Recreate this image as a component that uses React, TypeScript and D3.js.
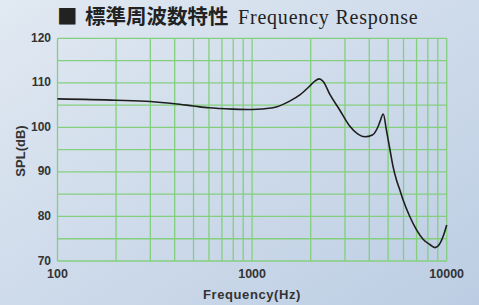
import React from "react";
import * as d3 from "d3";

const freqs = [100, 200, 300, 400, 500, 600, 800, 1000, 1280, 1560, 1760, 1980, 2100, 2210, 2320, 2510, 2830, 3150, 3500, 3800, 4150, 4440, 4540, 4720, 4900, 5100, 5300, 5520, 5740, 5970, 6460, 7000, 7560, 8190, 8690, 9220, 9580, 10000];
const spl = [106.4, 106.1, 105.8, 105.3, 104.8, 104.4, 104.1, 104.0, 104.4, 105.9, 107.3, 109.3, 110.4, 110.9, 110.3, 107.4, 103.8, 100.5, 98.5, 97.9, 98.3, 100.2, 101.3, 103.0, 99.4, 95.2, 91.2, 88.2, 86.0, 83.7, 80.0, 77.0, 74.9, 73.7, 73.0, 73.9, 75.5, 78.1];
const xTickLabels = [100, 1000, 10000];
const xGrid = [100, 200, 300, 400, 500, 600, 700, 800, 900, 1000, 2000, 3000, 4000, 5000, 6000, 7000, 8000, 9000, 10000];
const yTickLabels = [70, 80, 90, 100, 110, 120];
const yGrid = [70, 75, 80, 85, 90, 95, 100, 105, 110, 115, 120];

const W = 479, H = 305;
const L = 57.5, R = 446.7, T = 38.3, B = 261;

export default function App() {
  const x = d3.scaleLog().domain([100, 10000]).range([L, R]);
  const y = d3.scaleLinear().domain([70, 120]).range([B, T]);
  const data = freqs.map((f, i) => [f, spl[i]] as [number, number]);
  const line = d3.line<[number, number]>().x(d => x(d[0])).y(d => y(d[1])).curve(d3.curveMonotoneX);
  const grid = "#84cf7e";
  const tickFont = "'Liberation Sans', Arial, sans-serif";
  return (
    <svg width={W} height={H} style={{ position: "fixed", left: 0, top: 0 }}>
      <defs>
        <linearGradient id="bg" x1="0" y1="0" x2="1" y2="1">
          <stop offset="0" stopColor="#e1e9f2" />
          <stop offset="1" stopColor="#bccde3" />
        </linearGradient>
      </defs>
      <rect x={0} y={0} width={W} height={H} fill="url(#bg)" />
      {yGrid.map(v => (
        <line key={"h" + v} x1={L} x2={R} y1={y(v)} y2={y(v)} stroke={grid} strokeWidth={1.3} />
      ))}
      {xGrid.map(v => (
        <line key={"v" + v} x1={x(v)} x2={x(v)} y1={T} y2={B} stroke={grid} strokeWidth={1.3} />
      ))}
      <path d={line(data) || ""} fill="none" stroke="#1e1e1e" strokeWidth={1.6} />
      {yTickLabels.map(v => (
        <text key={"yl" + v} x={51} y={y(v) + 3.5} textAnchor="end" fontFamily={tickFont} fontWeight="bold" fontSize={12} fill="#333">{v}</text>
      ))}
      {xTickLabels.map(v => (
        <text key={"xl" + v} x={x(v)} y={277.5} textAnchor="middle" fontFamily={tickFont} fontWeight="bold" fontSize={12.5} fill="#333">{v}</text>
      ))}
      <text x={252} y={299} textAnchor="middle" fontFamily={tickFont} fontWeight="bold" fontSize={13} letterSpacing={0.6} fill="#333">Frequency(Hz)</text>
      <text transform="translate(25,151) rotate(-90)" textAnchor="middle" fontFamily={tickFont} fontWeight="bold" fontSize={13} fill="#333">SPL(dB)</text>
      <text x={57} y={24} fontFamily="'Noto Sans CJK JP', sans-serif" fontWeight="bold" fontSize={20.5} fill="#222">■</text>
      <text x={85} y={24} fontFamily="'Noto Sans CJK JP', sans-serif" fontWeight="bold" fontSize={20.5} fill="#222">標準周波数特性</text>
      <text x={238} y={24.3} fontFamily="'Liberation Serif', 'Times New Roman', serif" fontSize={20} letterSpacing={0.8} fill="#222">Frequency Response</text>
    </svg>
  );
}
